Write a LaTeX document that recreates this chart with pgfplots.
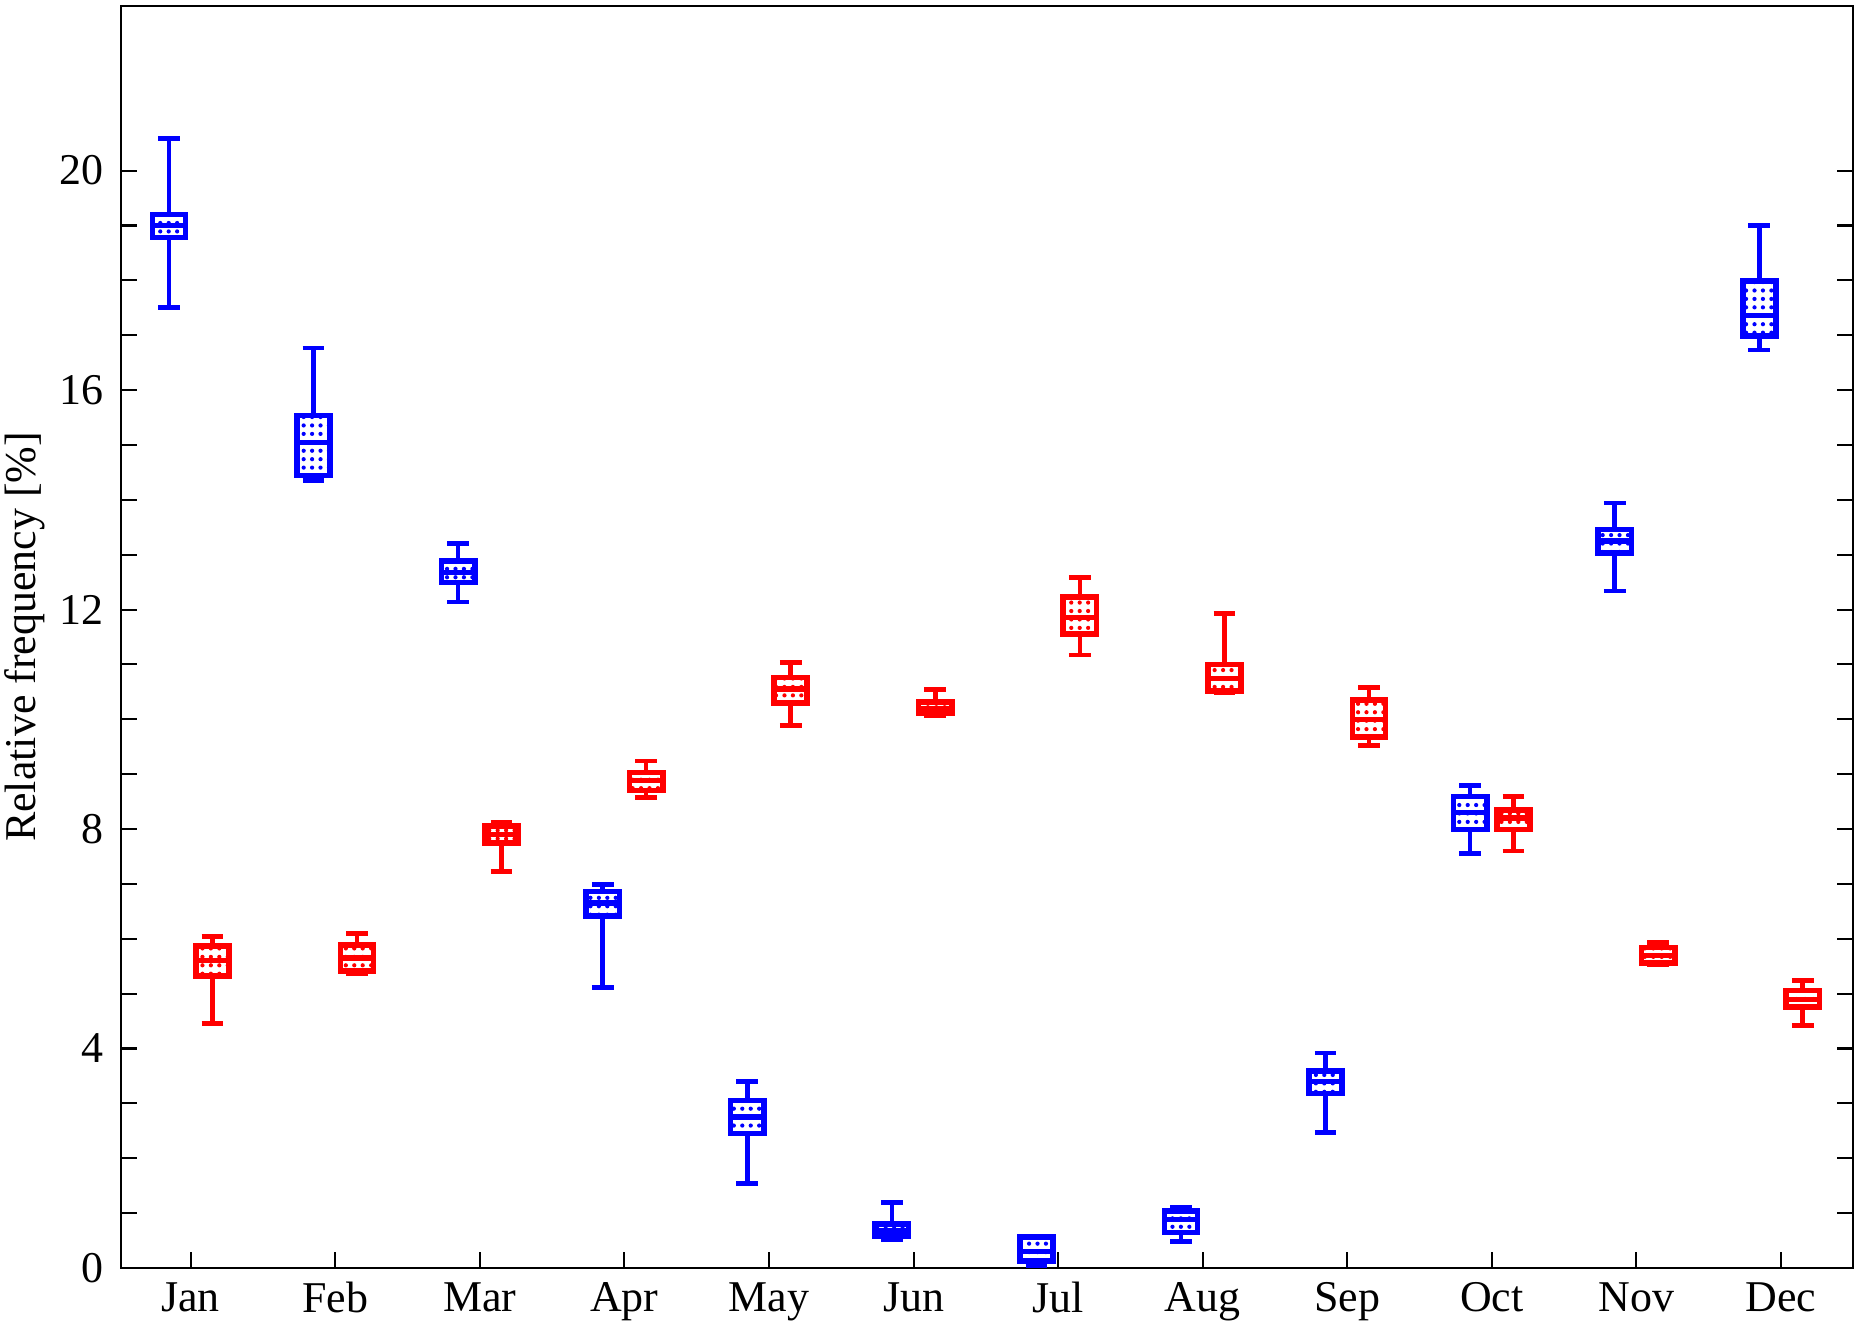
\documentclass[border=0pt]{standalone}
\usepackage{fontspec}
\setmainfont{Liberation Serif}
\usepackage{pgfplots}
\pgfplotsset{compat=1.18}
\usepgfplotslibrary{statistics}
\usetikzlibrary{patterns.meta,calc}
\definecolor{bblue}{RGB}{0,0,255}
\definecolor{rred}{RGB}{255,0,0}
\tikzdeclarepattern{
  name=mydots,
  type=uncolored,
  bottom left={(-1.2pt,-1.2pt)},
  top right={(1.2pt,1.2pt)},
  tile size={(2.4pt,2.4pt)},
  code={\pgfpathcircle{\pgfpointorigin}{0.6pt}\pgfusepath{fill}}
}
% #1 colour, #2 position, #3 lower whisker, #4 lower quartile, #5 median, #6 upper quartile, #7 upper whisker
\newcommand{\bx}[7]{%
\addplot[draw=#1, line width=1.5pt, solid,
  boxplot/draw direction=y,
  boxplot prepared={draw position=#2, lower whisker=#3, lower quartile=#4,
    median=#5, upper quartile=#6, upper whisker=#7,
    box extend=0.23, whisker extend=0.15,
    every box/.style={draw=#1, line width=1.6pt, pattern=mydots, pattern color=#1},
    every median/.style={draw=#1, line width=1.5pt},
    every whisker/.style={draw=#1, line width=1.3pt}}]
  coordinates {};}
\begin{document}
\begin{tikzpicture}
\begin{axis}[
  scale only axis,
  width=17.32cm, height=12.62cm,
  xmin=0.516, xmax=12.496, ymin=0, ymax=23,
  xtick={1,...,12},
  xticklabels={Jan,Feb,Mar,Apr,May,Jun,Jul,Aug,Sep,Oct,Nov,Dec},
  xtick pos=bottom,
  ytick={0,4,...,20},
  minor y tick num=3,
  ytick pos=both,
  tick align=inside,
  major tick length=0.16cm,
  minor tick length=0.16cm,
  tick style={black, line width=0.6pt},
  axis line style={line width=0.6pt},
  every tick label/.append style={font=\fontsize{12.5}{15}\selectfont},
  /pgf/number format/assume math mode=true,
  yticklabel style={xshift=-0.05cm},
  xticklabel style={yshift=-0.02cm},
  ylabel={Relative frequency [\%]},
  every axis y label/.style={at={(axis description cs:-0.0554,0.5)}, rotate=90, anchor=center, font=\fontsize{12.5}{15}\selectfont},
]
% blue series (offset -0.15)
\bx{bblue}{0.85}{17.5}{18.78}{19.0}{19.2}{20.58}
\bx{bblue}{1.85}{14.35}{14.44}{15.05}{15.54}{16.77}
\bx{bblue}{2.85}{12.14}{12.49}{12.68}{12.88}{13.2}
\bx{bblue}{3.85}{5.11}{6.41}{6.65}{6.86}{6.99}
\bx{bblue}{4.85}{1.54}{2.45}{2.75}{3.05}{3.4}
\bx{bblue}{5.85}{0.52}{0.58}{0.68}{0.8}{1.19}
\bx{bblue}{6.85}{0.04}{0.13}{0.3}{0.56}{0.58}
\bx{bblue}{7.85}{0.48}{0.65}{0.88}{1.04}{1.1}
\bx{bblue}{8.85}{2.47}{3.18}{3.4}{3.59}{3.92}
\bx{bblue}{9.85}{7.55}{7.99}{8.3}{8.59}{8.79}
\bx{bblue}{10.85}{12.34}{13.03}{13.25}{13.46}{13.94}
\bx{bblue}{11.85}{16.73}{16.99}{17.36}{17.99}{19.0}
% red series (offset +0.15)
\bx{rred}{1.15}{4.46}{5.32}{5.6}{5.87}{6.04}
\bx{rred}{2.15}{5.37}{5.41}{5.65}{5.89}{6.1}
\bx{rred}{3.15}{7.23}{7.75}{7.9}{8.05}{8.12}
\bx{rred}{4.15}{8.57}{8.7}{8.88}{9.03}{9.24}
\bx{rred}{5.15}{9.89}{10.3}{10.55}{10.76}{11.04}
\bx{rred}{6.15}{10.06}{10.11}{10.2}{10.32}{10.54}
\bx{rred}{7.15}{11.17}{11.56}{11.85}{12.23}{12.58}
\bx{rred}{8.15}{10.48}{10.52}{10.75}{11.0}{11.93}
\bx{rred}{9.15}{9.52}{9.68}{10.0}{10.35}{10.58}
\bx{rred}{10.15}{7.6}{7.99}{8.2}{8.35}{8.59}
\bx{rred}{11.15}{5.52}{5.56}{5.7}{5.84}{5.93}
\bx{rred}{12.15}{4.42}{4.76}{4.9}{5.06}{5.24}
\end{axis}
\pgfresetboundingbox
\path[use as bounding box] ($(current axis.south west)+(-1.207cm,-0.6cm)$) rectangle ($(current axis.north east)+(0.073cm,0.06cm)$);
\end{tikzpicture}
\end{document}
